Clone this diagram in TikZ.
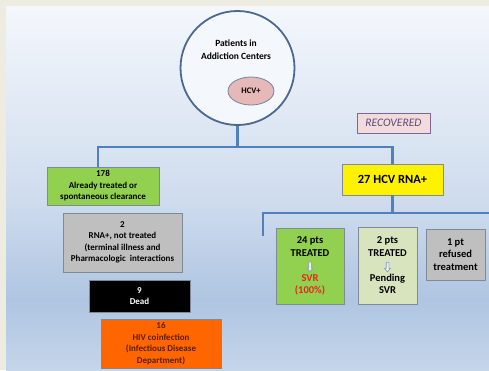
\documentclass[tikz,border=0pt]{standalone}
\usepackage{fontspec}
\setmainfont{Carlito}
\usetikzlibrary{shapes.geometric}
\definecolor{beige}{HTML}{EEEBE0}
\definecolor{conncol}{HTML}{4F81BD}
\definecolor{circbord}{HTML}{4A6890}
\definecolor{boxbord}{HTML}{7F8A99}
\definecolor{grnfill}{HTML}{92D050}
\definecolor{ltgrn}{HTML}{D7E4BD}
\definecolor{grayfill}{HTML}{BFBFBF}
\definecolor{orangefill}{HTML}{FF6600}
\definecolor{orangetext}{HTML}{5A1E00}
\definecolor{recfill}{HTML}{F2DCDB}
\definecolor{recbord}{HTML}{8064A2}
\definecolor{rectext}{HTML}{5F497A}
\definecolor{hcvfill}{HTML}{E6B8B7}
\definecolor{svrred}{HTML}{E8261C}
\definecolor{arrgray}{HTML}{8497B0}
\definecolor{arrfill}{HTML}{EEF3FA}
\definecolor{bgA}{HTML}{F4F7FC}
\definecolor{bgB}{HTML}{E2EAF5}
\definecolor{bgC}{HTML}{CFDCEE}
\definecolor{bgD}{HTML}{AFC5E1}
\definecolor{bgE}{HTML}{C5D5EA}
\pgfdeclareverticalshading{bgshade}{100bp}{color(0bp)=(bgE); color(25bp)=(bgE); color(34.6bp)=(bgD); color(48.4bp)=(bgC); color(62.1bp)=(bgB); color(75bp)=(bgA); color(100bp)=(bgA)}
\newcommand{\dnarr}{\tikz[x=1pt,y=1pt,baseline=0pt]{\draw[arrgray, fill=arrfill, line width=0.6pt] (-1.3,6.5) -- (1.3,6.5) -- (1.3,0.5) -- (2.8,0.5) -- (0,-3) -- (-2.8,0.5) -- (-1.3,0.5) -- cycle;}}
\tikzset{
  conn/.style={draw=conncol, line width=2.6pt},
  box/.style={draw=boxbord, line width=0.8pt, align=center, font=\bfseries\fontsize{9}{11.5}\selectfont, inner sep=1pt},
  tbox/.style={box, font=\bfseries\fontsize{10.5}{12.5}\selectfont},
}
\begin{document}
\begin{tikzpicture}[x=1pt,y=-1pt]
\useasboundingbox (0,0) rectangle (489,370);
\fill[beige] (0,0) rectangle (489,370);
\shade[shading=bgshade] (6,6) rectangle (489,370);

% top circle
\node[circle, draw=circbord, line width=1.8pt, fill=bgA, minimum size=114pt, inner sep=0pt] (circ) at (237.5,68) {};
\node[font=\bfseries\fontsize{9.5}{13}\selectfont, align=center] (pat) at (236,50) {Patients in\\Addiction Centers};
\node[ellipse, draw=circbord!80, line width=0.8pt, fill=hcvfill, minimum width=46pt, minimum height=28pt, inner sep=0pt, font=\bfseries\fontsize{8.5}{9}\selectfont] (hcv) at (251,91) {HCV+};

% recovered label
\node[draw=recbord, line width=0.8pt, fill=recfill, minimum width=73pt, minimum height=20pt, inner sep=0pt, font=\itshape\fontsize{11.5}{12}\selectfont, text=rectext] (rec) at (393.5,123) {RECOVERED};

% left column
\node[box, fill=grnfill, minimum width=112pt, minimum height=38pt] (b178) at (103,186) {178\\Already treated or\\spontaneous clearance};
\node[box, fill=grayfill, minimum width=119pt, minimum height=59pt] (b2) at (122.5,242.5) {2\\RNA+, not treated\\(terminal illness and\\Pharmacologic\ \ interactions};
\node[box, fill=black, text=white, minimum width=101pt, minimum height=32pt] (b9) at (139.5,296) {9\\Dead};
\node[box, fill=orangefill, text=orangetext, minimum width=120pt, minimum height=49pt] (b16) at (161,343.5) {16\\HIV coinfection\\(Infectious Disease\\Department)};

% right column
\node[box, fill=yellow, draw=boxbord, minimum width=101pt, minimum height=31pt, font=\bfseries\fontsize{12.5}{14}\selectfont] (h27) at (392.5,179.5) {27 HCV RNA+};
\node[tbox, fill=grnfill, minimum width=68pt, minimum height=76pt] (t24) at (310,266) {24 pts\\TREATED\\\dnarr\\{\color{svrred}SVR}\\{\color{svrred}(100\%)}};
\node[tbox, fill=ltgrn, minimum width=59pt, minimum height=77pt] (t2) at (387.5,265.5) {2 pts\\TREATED\\\dnarr\\Pending\\SVR};
\node[tbox, fill=grayfill, minimum width=59pt, minimum height=51pt] (r1) at (455.5,254.5) {1 pt\\refused\\treatment};

% connectors
\coordinate (j1) at (237.5,147);
\coordinate (j2) at (392.5,213);
\coordinate (le) at (263,236);
\coordinate (re) at (489,213);
\draw[conn] (circ.south) -- (j1);
\draw[conn] ([xshift=-5pt]b178.north) |- (j1) -| (h27.north);
\draw[conn] (h27.south) -- (j2);
\draw[conn] (le) |- (re);
\end{tikzpicture}
\end{document}
